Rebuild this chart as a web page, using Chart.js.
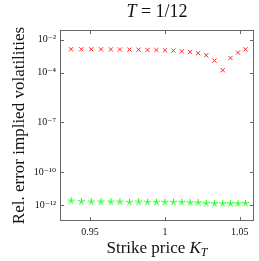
<!DOCTYPE html>
<html>
<head>
<meta charset="utf-8">
<script src="https://cdn.jsdelivr.net/npm/chart.js@4"></script>
<style>
  body { margin: 0; background: #fff; }
  #wrap { width: 259px; height: 261px; }
</style>
</head>
<body>
<div id="wrap"><canvas id="chart" width="259" height="261"></canvas></div>
<script>
const strikes = [0.9373, 0.9442, 0.9508, 0.9573, 0.9639, 0.9699, 0.9763, 0.9824, 0.9884, 0.9943, 1.0,
                 1.0057, 1.0113, 1.0168, 1.0222, 1.0276, 1.0331, 1.0386, 1.0438, 1.0488, 1.0538];
const errRed = [2.65e-3, 2.65e-3, 2.64e-3, 2.62e-3, 2.6e-3, 2.58e-3, 2.53e-3, 2.5e-3, 2.42e-3, 2.38e-3, 2.31e-3,
                2.2e-3, 2.01e-3, 1.83e-3, 1.52e-3, 1.15e-3, 5.5e-4, 1.43e-4, 7.9e-4, 1.67e-3, 2.65e-3];
const errGreen = [1.75e-12, 1.59e-12, 1.52e-12, 1.52e-12, 1.52e-12, 1.52e-12, 1.45e-12, 1.52e-12, 1.45e-12, 1.45e-12, 1.45e-12,
                  1.45e-12, 1.45e-12, 1.38e-12, 1.38e-12, 1.26e-12, 1.2e-12, 1.2e-12, 1.2e-12, 1.2e-12, 1.26e-12];
const xTicks = [0.95, 1, 1.05];
const xTickLabels = ['0.95', '1', '1.05'];
const yTicks = [1e-12, 1e-10, 1e-7, 1e-4, 1e-2];
const yTickLabels = ['10\u207B\u00B9\u00B2', '10\u207B\u00B9\u2070', '10\u207B\u2077', '10\u207B\u2074', '10\u207B\u00B2'];

const serif = "'Liberation Serif', 'DejaVu Serif', serif";
const textColor = '#111';

// 5-spoke star marker like pgfplots "star"
const star = document.createElement('canvas');
star.width = 9; star.height = 9;
(function () {
  const c = star.getContext('2d');
  c.strokeStyle = 'rgb(0,255,0)';
  c.lineWidth = 1;
  c.beginPath();
  for (let i = 0; i < 5; i++) {
    const a = -Math.PI / 2 + i * 2 * Math.PI / 5;
    c.moveTo(4.5, 4.5);
    c.lineTo(4.5 + 3.6 * Math.cos(a), 4.5 + 3.6 * Math.sin(a));
  }
  c.stroke();
})();

function drawRich(ctx, parts, cx, baseline) {
  let w = 0;
  parts.forEach(p => { ctx.font = p.font; w += ctx.measureText(p.text).width; });
  let x = cx - w / 2;
  ctx.textAlign = 'left';
  ctx.textBaseline = 'alphabetic';
  parts.forEach(p => {
    ctx.font = p.font;
    ctx.fillText(p.text, x, baseline + (p.dy || 0));
    x += ctx.measureText(p.text).width;
  });
}

const frame = {
  id: 'frame',
  afterDraw(chart) {
    const { ctx, chartArea: a, scales: { x, y } } = chart;
    ctx.save();
    ctx.strokeStyle = '#666';
    ctx.lineWidth = 1;
    ctx.strokeRect(a.left + 0.5, a.top + 0.5, a.right - a.left - 1, a.bottom - a.top - 1);
    ctx.beginPath();
    x.ticks.forEach(t => {
      const px = Math.round(x.getPixelForValue(t.value)) + 0.5;
      ctx.moveTo(px, a.bottom); ctx.lineTo(px, a.bottom - 4);
      ctx.moveTo(px, a.top); ctx.lineTo(px, a.top + 4);
    });
    y.ticks.forEach(t => {
      const py = Math.round(y.getPixelForValue(t.value)) + 0.5;
      ctx.moveTo(a.left, py); ctx.lineTo(a.left + 4, py);
      ctx.moveTo(a.right, py); ctx.lineTo(a.right - 4, py);
    });
    ctx.stroke();

    ctx.fillStyle = textColor;
    const cx = (a.left + a.right) / 2;
    drawRich(ctx, [
      { text: 'T', font: 'italic 18px ' + serif },
      { text: ' = 1/12', font: '18px ' + serif }
    ], cx, 17);
    drawRich(ctx, [
      { text: 'Strike price ', font: '17px ' + serif },
      { text: 'K', font: 'italic 17px ' + serif },
      { text: 'T', font: 'italic 12px ' + serif, dy: 3 }
    ], cx, 253);
    ctx.restore();
  }
};

new Chart(document.getElementById('chart'), {
  type: 'scatter',
  data: {
    datasets: [
      {
        label: 'red',
        data: strikes.map((k, i) => ({ x: k, y: errRed[i] })),
        pointStyle: 'crossRot',
        radius: 3,
        borderWidth: 1,
        borderColor: 'rgb(255,40,40)',
        backgroundColor: 'rgb(255,40,40)'
      },
      {
        label: 'green',
        data: strikes.map((k, i) => ({ x: k, y: errGreen[i] })),
        pointStyle: star,
        radius: 4,
        borderColor: 'rgb(0,255,0)'
      }
    ]
  },
  options: {
    responsive: false,
    animation: false,
    events: [],
    layout: { padding: { top: 30, right: 0.7, left: 0, bottom: 0 } },
    plugins: { legend: { display: false }, tooltip: { enabled: false }, title: { display: false } },
    scales: {
      x: {
        type: 'linear',
        min: 0.9299,
        max: 1.0595,
        afterBuildTicks: s => { s.ticks = xTicks.map(v => ({ value: v })); },
        afterFit: s => { s.height = 40; },
        grid: { display: false, drawTicks: false },
        border: { display: false },
        ticks: {
          autoSkip: false,
          maxRotation: 0,
          padding: 5,
          color: textColor,
          font: { family: serif, size: 10 },
          callback: (v, i) => xTickLabels[i]
        }
      },
      y: {
        type: 'logarithmic',
        min: Math.pow(10, -12.97),
        max: Math.pow(10, -1.41),
        afterBuildTicks: s => { s.ticks = yTicks.map(v => ({ value: v })); },
        afterFit: s => { s.width = 60; },
        grid: { display: false, drawTicks: false },
        border: { display: false },
        ticks: {
          autoSkip: false,
          padding: 4,
          color: textColor,
          font: { family: serif, size: 10 },
          callback: (v, i) => yTickLabels[i]
        },
        title: {
          display: true,
          text: 'Rel. error implied volatilities',
          color: textColor,
          font: { family: serif, size: 17, lineHeight: 1 },
          padding: { top: 11, bottom: 0 }
        }
      }
    }
  },
  plugins: [frame]
});
</script>
</body>
</html>
